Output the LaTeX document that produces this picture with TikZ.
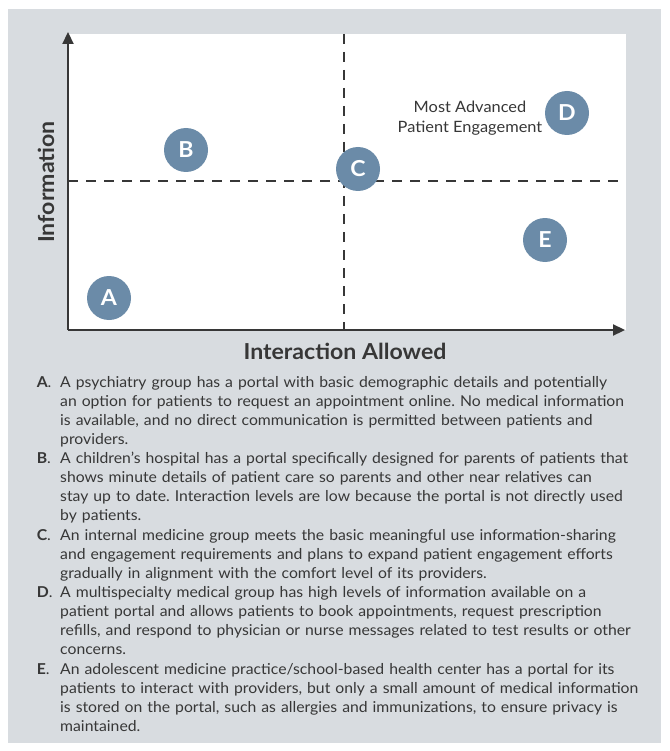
\documentclass[tikz,border=0pt]{standalone}
\usepackage{fontspec}
\setmainfont{Lato}
\newfontfamily\wideface{Lato}[FakeStretch=1.05]
\usetikzlibrary{arrows.meta, positioning}
\definecolor{cPanel}{RGB}{216,220,224}
\definecolor{cDot}{RGB}{107,139,168}
\definecolor{cInk}{RGB}{55,55,55}
\tikzset{
    dot/.style      ={circle, fill=cDot, text=white, minimum size=44pt, inner sep=0pt, font=\wideface\fontsize{22}{22}\selectfont\bfseries},
    axis/.style     ={-{Triangle[length=12pt, width=11pt]}, line width=2.2pt, cInk},
    split/.style    ={dash pattern=on 10pt off 8pt, line width=2pt, cInk},
    axislabel/.style={font=\wideface\fontsize{22}{22}\selectfont\bfseries, text=cInk, inner sep=0pt},
    note/.style     ={align=center, font=\wideface\fontsize{15.6}{20}\selectfont, text=cInk, inner sep=0pt},
    entry/.style    ={text width=660pt, align=left, inner sep=0pt, anchor=north west, font=\wideface\fontsize{15}{19}\selectfont\frenchspacing, text=cInk,
                      execute at begin node=\strut, execute at end node=\strut},
    lettertag/.style={text width=23pt, align=left, inner sep=0pt, anchor=north east, font=\wideface\fontsize{15}{19}\selectfont, text=cInk,
                      execute at begin node=\strut},
}

\begin{document}
\begin{tikzpicture}[x=1pt, y=-1pt]
    \useasboundingbox (0,0) rectangle (669,751);
    \fill[cPanel] (8,9) rectangle (661,743);
    \fill[white] (68,34) rectangle (626,330);

    % quadrant lines
    \coordinate (midtop) at (344,34);
    \coordinate (midbot) at (344,330);
    \coordinate (midleft) at (68,181);
    \coordinate (midright) at (624,181);
    \draw[split] (midtop) -- (midbot);
    \draw[split] (midleft) -- (midright);

    % axes
    \coordinate (origin) at (68,330);
    \coordinate (ytip) at (68,32);
    \coordinate (xtip) at (625,330);
    \draw[axis] (origin) -- (ytip);
    \draw[axis] (origin) -- (xtip);
    \node[axislabel, rotate=90] (ylab) at (46,182) {Information};
    \node[axislabel] (xlab) at (345,351) {Interaction Allowed};

    % organisations
    \node[dot] (dotA) at (109,298) {A};
    \node[dot] (dotB) at (186,150) {B};
    \node[dot] (dotC) at (358,169) {C};
    \node[dot] (dotD) at (567,113) {D};
    \node[dot] (dotE) at (545,240) {E};
    \node[note] (advanced) at (470,118) {Most Advanced\\Patient Engagement};

    % legend
    \node[entry] (itemA) at (60,374)
        {A psychiatry group has a portal with basic demographic details and potentially\\
         an option for patients to request an appointment online. No medical information\\
         is available, and no direct communication is permitted between patients and\\
         providers.};
    \node[entry, below=0pt of itemA] (itemB)
        {A children’s hospital has a portal specifically designed for parents of patients that\\
         shows minute details of patient care so parents and other near relatives can\\
         stay up to date. Interaction levels are low because the portal is not directly used\\
         by patients.};
    \node[entry, below=0pt of itemB] (itemC)
        {An internal medicine group meets the basic meaningful use information-sharing\\
         and engagement requirements and plans to expand patient engagement efforts\\
         gradually in alignment with the comfort level of its providers.};
    \node[entry, below=0pt of itemC] (itemD)
        {A multispecialty medical group has high levels of information available on a\\
         patient portal and allows patients to book appointments, request prescription\\
         refills, and respond to physician or nurse messages related to test results or other\\
         concerns.};
    \node[entry, below=0pt of itemD] (itemE)
        {An adolescent medicine practice/school-based health center has a portal for its\\
         patients to interact with providers, but only a small amount of medical information\\
         is stored on the portal, such as allergies and immunizations, to ensure privacy is\\
         maintained.};
    \foreach \k in {A,...,E}
        \node[lettertag] (tag\k) at (item\k.north west) {\textbf{\k}.};
\end{tikzpicture}
\end{document}
